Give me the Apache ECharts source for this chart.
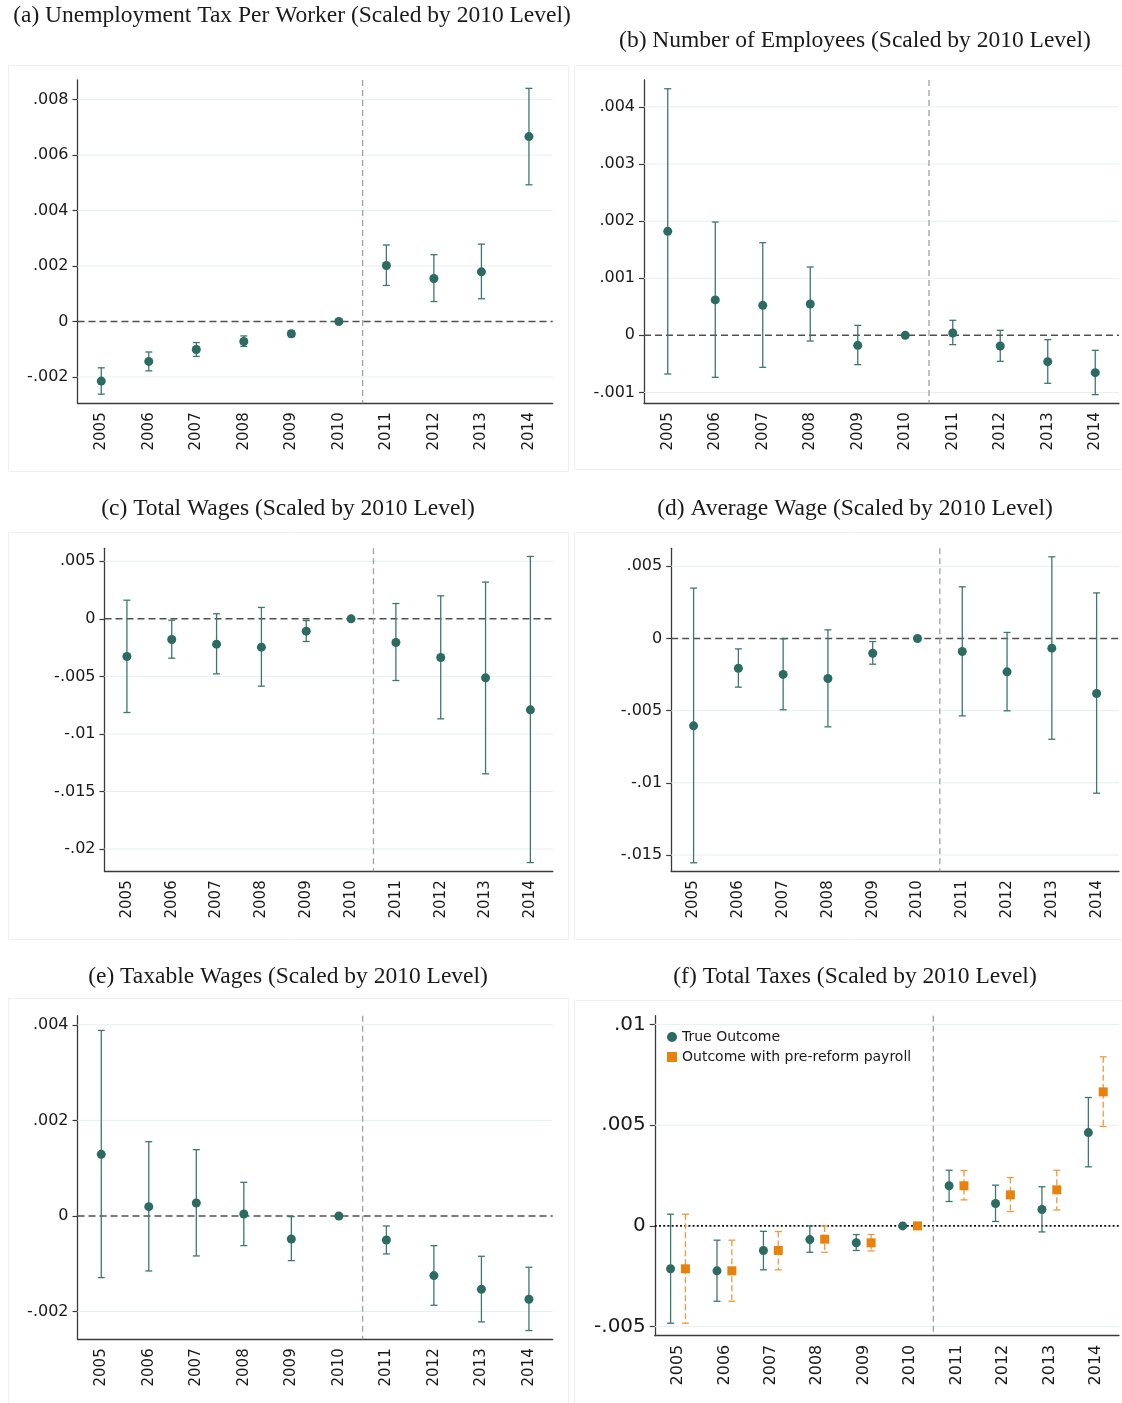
<!DOCTYPE html>
<html>
<head>
<meta charset="utf-8">
<script src="https://cdn.jsdelivr.net/npm/echarts@6/dist/echarts.min.js"></script>
<style>
  html, body { margin: 0; padding: 0; background: #ffffff; }
  #chart { width: 1122px; height: 1403px; }
</style>
</head>
<body>
<div id="chart"></div>
<script>
// ---------- data ----------
const years = ['2005', '2006', '2007', '2008', '2009', '2010', '2011', '2012', '2013', '2014'];
const reformYear = '2010';

// (a) Unemployment tax per worker
const taxPerWorkerEst = [-0.00215, -0.00144, -0.00101, -0.00072, -0.00044, 0, 0.00202, 0.00155, 0.00179, 0.00667];
const taxPerWorkerLo  = [-0.00262, -0.00178, -0.00126, -0.00090, -0.00055, null, 0.00130, 0.00072, 0.00082, 0.00493];
const taxPerWorkerHi  = [-0.00167, -0.00110, -0.00076, -0.00052, -0.00034, null, 0.00276, 0.00241, 0.00279, 0.00841];
const taxPerWorkerTicks = [-0.002, 0, 0.002, 0.004, 0.006, 0.008];
const taxPerWorkerRange = [-0.00295, 0.00871];

// (b) Number of employees
const employeesEst = [0.00182, 0.00062, 0.000525, 0.000548, -0.000175, 0, 0.000041, -0.000187, -0.000461, -0.000653];
const employeesLo  = [-0.000677, -0.000735, -0.00056, -0.0001, -0.000513, null, -0.000163, -0.000455, -0.00084, -0.001038];
const employeesHi  = [0.004317, 0.001984, 0.001622, 0.001196, 0.000175, null, 0.000263, 0.0000875, -0.000076, -0.000263];
const employeesTicks = [-0.001, 0, 0.001, 0.002, 0.003, 0.004];
const employeesRange = [-0.00119, 0.00447];

// (c) Total wages
const totalWagesEst = [-0.00327, -0.0018, -0.0022, -0.00246, -0.00107, 0, -0.00206, -0.00336, -0.00513, -0.00791];
const totalWagesLo  = [-0.00814, -0.00342, -0.00478, -0.00585, -0.00197, null, -0.00536, -0.00869, -0.01347, -0.02118];
const totalWagesHi  = [0.00162, -0.00012, 0.00044, 0.00099, -0.00015, null, 0.00133, 0.002, 0.00319, 0.00542];
const totalWagesTicks = [-0.02, -0.015, -0.01, -0.005, 0, 0.005];
const totalWagesRange = [-0.02194, 0.00613];

// (d) Average wage
const avgWageEst = [-0.00605, -0.00206, -0.00249, -0.00277, -0.00102, 0, -0.0009, -0.00231, -0.00067, -0.00381];
const avgWageLo  = [-0.01554, -0.00337, -0.00494, -0.00612, -0.00178, null, -0.00536, -0.00501, -0.00698, -0.01072];
const avgWageHi  = [0.00349, -0.00072, -0.00002, 0.0006, -0.00021, null, 0.00358, 0.00042, 0.00566, 0.00316];
const avgWageTicks = [-0.015, -0.01, -0.005, 0, 0.005];
const avgWageRange = [-0.01613, 0.00625];

// (e) Taxable wages
const taxableWagesEst = [0.00129, 0.000195, 0.000272, 0.000042, -0.000481, 0, -0.000502, -0.001247, -0.001533, -0.001742];
const taxableWagesLo  = [-0.001289, -0.00115, -0.000836, -0.00062, -0.000934, null, -0.000794, -0.001868, -0.002216, -0.002397];
const taxableWagesHi  = [0.003882, 0.001554, 0.001387, 0.000704, -0.000014, null, -0.000209, -0.00062, -0.000843, -0.001073];
const taxableWagesTicks = [-0.002, 0, 0.002, 0.004];
const taxableWagesRange = [-0.00258, 0.00419];

// (f) Total taxes: true outcome and outcome with pre-reform payroll
const totalTaxesEst = [-0.00213, -0.00223, -0.00122, -0.00068, -0.00084, 0, 0.00199, 0.00111, 0.00081, 0.00463];
const totalTaxesLo  = [-0.00483, -0.00374, -0.00218, -0.00131, -0.00122, null, 0.00121, 0.00022, -0.0003, 0.00293];
const totalTaxesHi  = [0.00058, -0.00071, -0.00027, 0, -0.00043, null, 0.00276, 0.00202, 0.00194, 0.00637];
const preReformEst = [-0.00213, -0.00223, -0.00122, -0.00066, -0.00084, 0, 0.00199, 0.00154, 0.00179, 0.00665];
const preReformLo  = [-0.00483, -0.00374, -0.00218, -0.00131, -0.00124, null, 0.00129, 0.00071, 0.00079, 0.00493];
const preReformHi  = [0.00058, -0.00071, -0.00028, 0, -0.00043, null, 0.00275, 0.0024, 0.00276, 0.00839];
const totalTaxesTicks = [-0.005, 0, 0.005, 0.01];
const totalTaxesRange = [-0.00545, 0.01043];

const titles = [
  '(a) Unemployment Tax Per Worker (Scaled by 2010 Level)',
  '(b) Number of Employees (Scaled by 2010 Level)',
  '(c) Total Wages (Scaled by 2010 Level)',
  '(d) Average Wage (Scaled by 2010 Level)',
  '(e) Taxable Wages (Scaled by 2010 Level)',
  '(f) Total Taxes (Scaled by 2010 Level)'
];
const seriesNames = ['True Outcome', 'Outcome with pre-reform payroll'];

// ---------- styling & layout ----------
const TEAL = '#2b6b61';
const TEAL_BAR = '#3d786e';
const ORANGE = '#e8820c';
const ORANGE_BAR = '#ee9a3e';
const GRID_LINE = '#e6eff1';
const TEXT = '#1a1a1a';
const AXIS = '#3a3a3a';

// plot areas (left, top, right, bottom), panel frames (x, y, w, h) and title anchors
const layout = [
  { plot: [77.5, 80, 552.7, 403.3],      frame: [8, 65, 560, 406],   title: [292, 16],  tickFont: 16, xFont: 15 },
  { plot: [644, 80, 1119, 403.3],        frame: [574, 65, 548, 404], title: [855, 41],  tickFont: 16, xFont: 15 },
  { plot: [104.5, 548.3, 552.8, 871.3],  frame: [8, 532, 560, 407],  title: [288, 509], tickFont: 16, xFont: 15 },
  { plot: [671.2, 548.3, 1119, 871.3],   frame: [574, 532, 548, 407], title: [855, 509], tickFont: 16, xFont: 15 },
  { plot: [77.5, 1015.7, 552.7, 1339.3], frame: [8, 998, 560, 410],  title: [288, 977], tickFont: 16, xFont: 15 },
  { plot: [654.8, 1015.7, 1119, 1335.7], frame: [574, 1000, 548, 410], title: [855, 977], tickFont: 20, xFont: 16 }
];

const panels = [
  { est: [taxPerWorkerEst], lo: [taxPerWorkerLo], hi: [taxPerWorkerHi], ticks: taxPerWorkerTicks, range: taxPerWorkerRange },
  { est: [employeesEst], lo: [employeesLo], hi: [employeesHi], ticks: employeesTicks, range: employeesRange },
  { est: [totalWagesEst], lo: [totalWagesLo], hi: [totalWagesHi], ticks: totalWagesTicks, range: totalWagesRange },
  { est: [avgWageEst], lo: [avgWageLo], hi: [avgWageHi], ticks: avgWageTicks, range: avgWageRange },
  { est: [taxableWagesEst], lo: [taxableWagesLo], hi: [taxableWagesHi], ticks: taxableWagesTicks, range: taxableWagesRange },
  { est: [totalTaxesEst, preReformEst], lo: [totalTaxesLo, preReformLo], hi: [totalTaxesHi, preReformHi],
    ticks: totalTaxesTicks, range: totalTaxesRange, compare: true }
];

function fmtTick(v) {
  if (Math.abs(v) < 1e-12) return '0';
  const s = Math.abs(v).toFixed(4).replace(/0+$/, '').replace(/^0/, '');
  return (v < 0 ? '-' : '') + s;
}

// horizontal reference lines spanning the plot
function hLineRenderer(style) {
  return function (params, api) {
    const cs = params.coordSys;
    const y = api.coord([0, api.value(1)])[1];
    return { type: 'line', shape: { x1: cs.x, y1: y, x2: cs.x + cs.width, y2: y }, style: style, silent: true };
  };
}

// vertical separator between the reform year and the following year
function cutoffRenderer(params, api) {
  const cs = params.coordSys;
  const band = api.size([1, 0])[0];
  const x = api.coord([api.value(0), 0])[0] + band / 2;
  return { type: 'line', shape: { x1: x, y1: cs.y, x2: x, y2: cs.y + cs.height },
           style: { stroke: '#a0a0a0', lineWidth: 1.3, lineDash: [6, 4] }, silent: true };
}

// confidence interval with caps
function errorBarRenderer(color, dashed, shiftFrac) {
  return function (params, api) {
    const i = api.value(0);
    const band = api.size([1, 0])[0];
    const dx = band * shiftFrac;
    const top = api.coord([i, api.value(2)]);
    const bot = api.coord([i, api.value(1)]);
    const x = top[0] + dx;
    const cap = 3.5;
    const capStyle = { stroke: color, lineWidth: 1.3 };
    return { type: 'group', children: [
      { type: 'line', shape: { x1: x, y1: top[1], x2: x, y2: bot[1] },
        style: { stroke: color, lineWidth: 1.3, lineDash: dashed ? [6, 3] : null } },
      { type: 'line', shape: { x1: x - cap, y1: top[1], x2: x + cap, y2: top[1] }, style: capStyle },
      { type: 'line', shape: { x1: x - cap, y1: bot[1], x2: x + cap, y2: bot[1] }, style: capStyle }
    ] };
  };
}

const grids = [], xAxes = [], yAxes = [], series = [], graphics = [];
const reformIdx = years.indexOf(reformYear);

panels.forEach(function (p, k) {
  const L = layout[k];
  const [l, t, r, b] = L.plot;
  grids.push({ left: l, top: t, width: r - l, height: b - t });

  xAxes.push({
    type: 'category', gridIndex: k, data: years, boundaryGap: true,
    axisLine: { onZero: false, lineStyle: { color: AXIS, width: 1.3 } },
    axisTick: { alignWithLabel: true, length: 5, lineStyle: { color: AXIS, width: 1.2 } },
    axisLabel: { rotate: 90, fontSize: L.xFont, color: TEXT, margin: 9, fontFamily: 'DejaVu Sans' },
    splitLine: { show: false }
  });
  yAxes.push({
    type: 'value', gridIndex: k, min: p.range[0], max: p.range[1],
    axisLine: { show: true, onZero: false, lineStyle: { color: AXIS, width: 1.3 } },
    axisTick: { show: true, length: 5, customValues: p.ticks, lineStyle: { color: AXIS, width: 1.2 } },
    axisLabel: { customValues: p.ticks, formatter: fmtTick, fontSize: L.tickFont, color: TEXT, margin: 9, fontFamily: 'DejaVu Sans' },
    splitLine: { show: false }
  });

  // grid lines
  series.push({
    type: 'custom', xAxisIndex: k, yAxisIndex: k, z: 1, silent: true,
    renderItem: hLineRenderer({ stroke: GRID_LINE, lineWidth: 1 }),
    data: p.ticks.filter(function (v) { return v !== 0; }).map(function (v) { return [0, v]; }),
    encode: { x: 0, y: 1 }
  });
  // zero reference line
  series.push({
    type: 'custom', xAxisIndex: k, yAxisIndex: k, z: 2, silent: true,
    renderItem: hLineRenderer(p.compare
      ? { stroke: '#111111', lineWidth: 1.6, lineDash: [2, 2.2] }
      : { stroke: '#505050', lineWidth: 1.5, lineDash: [7, 4] }),
    data: [[0, 0]], encode: { x: 0, y: 1 }
  });
  // reform cut-off
  series.push({
    type: 'custom', xAxisIndex: k, yAxisIndex: k, z: 2, silent: true,
    renderItem: cutoffRenderer, data: [[reformIdx, 0]], encode: { x: 0, y: 1 }
  });

  const bandPx = (r - l) / years.length;
  p.est.forEach(function (est, s) {
    const isOrange = s === 1;
    const shift = p.compare ? (s === 0 ? -0.16 : 0.16) : 0;
    const barData = [];
    years.forEach(function (y, i) {
      if (p.lo[s][i] !== null) barData.push([i, p.lo[s][i], p.hi[s][i]]);
    });
    series.push({
      type: 'custom', xAxisIndex: k, yAxisIndex: k, z: 3, silent: true,
      renderItem: errorBarRenderer(isOrange ? ORANGE_BAR : TEAL_BAR, isOrange, shift),
      data: barData, encode: { x: 0, y: [1, 2] }
    });
    series.push({
      type: 'scatter', name: p.compare ? seriesNames[s] : undefined,
      xAxisIndex: k, yAxisIndex: k, z: 4,
      symbol: isOrange ? 'rect' : 'circle',
      symbolSize: isOrange ? 9 : 9,
      symbolOffset: [shift * bandPx, 0],
      itemStyle: { color: isOrange ? ORANGE : TEAL, opacity: 1 },
      data: est.map(function (v, i) { return [i, v]; })
    });
  });

  graphics.push({
    type: 'rect', silent: true, z: 0,
    shape: { x: L.frame[0] + 0.5, y: L.frame[1] + 0.5, width: L.frame[2], height: L.frame[3] },
    style: { fill: null, stroke: '#f0f0f0', lineWidth: 1 }
  });
  graphics.push({
    type: 'text', silent: true, x: L.title[0], y: L.title[1],
    style: { text: titles[k], fill: TEXT, font: '23.5px "Liberation Serif"', align: 'center', verticalAlign: 'middle' }
  });
});

const chart = echarts.init(document.getElementById('chart'), null, { renderer: 'canvas' });
chart.setOption({
  backgroundColor: '#ffffff',
  animation: false,
  grid: grids,
  xAxis: xAxes,
  yAxis: yAxes,
  series: series,
  graphic: graphics,
  legend: {
    data: seriesNames, orient: 'vertical', left: 662, top: 1025,
    itemWidth: 10, itemHeight: 10, itemGap: 6,
    textStyle: { fontSize: 14, color: TEXT, fontFamily: 'DejaVu Sans' },
    selectedMode: false
  }
});
</script>
</body>
</html>
